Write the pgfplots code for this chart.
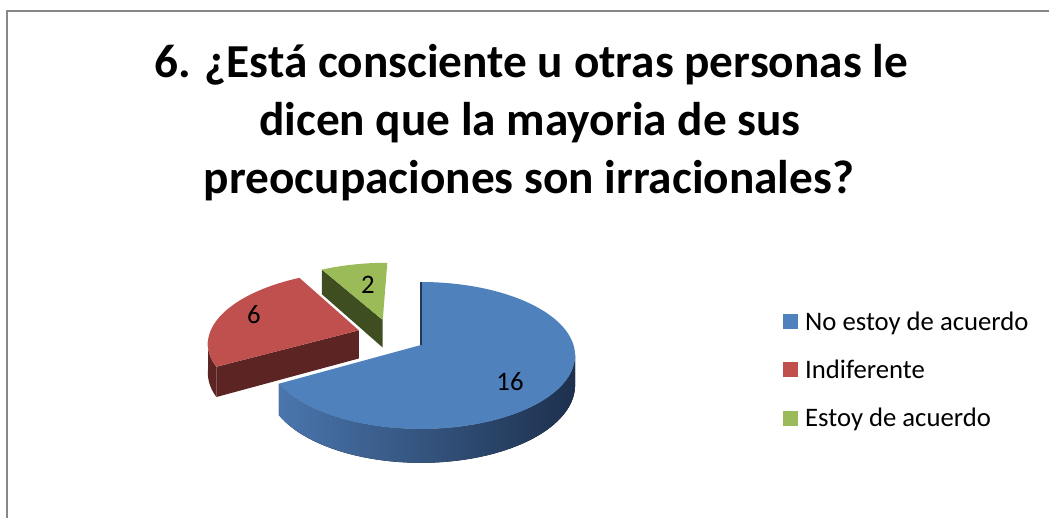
\documentclass[border=0pt]{standalone}
\usepackage{pgfplots}
\pgfplotsset{compat=1.18}
\usepackage{fontspec}
\setmainfont{Carlito}
\definecolor{blueTop}{HTML}{4F81BD}
\definecolor{blueWallL}{HTML}{4A76AD}
\definecolor{blueWallM}{HTML}{34557F}
\definecolor{blueWallR}{HTML}{1D304D}
\definecolor{blueEdge}{HTML}{22385A}
\definecolor{redTop}{HTML}{C0504D}
\definecolor{redDark}{HTML}{5C2524}
\definecolor{greenTop}{HTML}{9BBB59}
\definecolor{greenDark}{HTML}{3F4E21}
\definecolor{frameGray}{HTML}{878787}
% data
\def\vA{16}% No estoy de acuerdo
\def\vB{6}% Indiferente
\def\vC{2}% Estoy de acuerdo
\pgfmathsetmacro\tot{\vA+\vB+\vC}
\pgfmathsetmacro\aA{90}
\pgfmathsetmacro\aB{\aA-360*\vA/\tot}
\pgfmathsetmacro\aC{\aB-360*\vB/\tot}
\pgfmathsetmacro\aD{\aC-360*\vC/\tot}
% perspective projection of the pie plane
\pgfmathdeclarefunction{pjx}{2}{\pgfmathparse{421+152.5*(#1)/(1+0.1429*(#2))}}
\pgfmathdeclarefunction{pjy}{2}{\pgfmathparse{173+72*(#2)/(1+0.1429*(#2))}}
\pgfmathdeclarefunction{pjb}{2}{\pgfmathparse{173+(72*(#2)-29)/(1+0.1429*(#2))}}
\begin{document}
\begin{tikzpicture}
\useasboundingbox (0,0) rectangle (1049pt,518pt);
\begin{axis}[at={(0pt,0pt)}, anchor=origin, width=1049pt, height=518pt,
  scale only axis, xmin=0, xmax=1049, ymin=0, ymax=518, hide axis, clip=false]
% frame
\draw[frameGray, line width=1.5pt] (7,-10) -- (7,507) -- (1060,507);
% title
\node[anchor=base, font=\fontsize{47.3}{58}\selectfont\bfseries] at (531,440) {6. ¿Está consciente u otras personas le};
\node[anchor=base, font=\fontsize{47.3}{58}\selectfont\bfseries] at (530,382) {dicen que la mayoria de sus};
\node[anchor=base, font=\fontsize{47.3}{58}\selectfont\bfseries] at (529,324) {preocupaciones son irracionales?};
% ---- green slice (exploded) ----
\fill[greenDark] ({pjx(-0.264,0.365)},{pjy(-0.264,0.365)})
  -- ({pjx(-0.264+cos(\aC),0.365+sin(\aC))},{pjy(-0.264+cos(\aC),0.365+sin(\aC))})
  -- ({pjx(-0.264+cos(\aC),0.365+sin(\aC))},{pjb(-0.264+cos(\aC),0.365+sin(\aC))})
  -- ({pjx(-0.264,0.365)},{pjb(-0.264,0.365)}) -- cycle;
\fill[greenTop] ({pjx(-0.264,0.365)},{pjy(-0.264,0.365)})
  -- plot[domain=\aD:\aC, samples=20, variable=\t]
     ({pjx(-0.264+cos(\t),0.365+sin(\t))},{pjy(-0.264+cos(\t),0.365+sin(\t))}) -- cycle;
% ---- red slice (exploded) ----
\fill[redDark]
  plot[domain=-171.8:\aB, samples=15, variable=\t]
     ({pjx(-0.42+cos(\t),0.21+sin(\t))},{pjy(-0.42+cos(\t),0.21+sin(\t))})
  -- plot[domain=-171.8:\aB, samples=15, variable=\t]
     ({pjx(-0.42+cos(\aB-171.8-(\t)),0.21+sin(\aB-171.8-(\t)))},{pjb(-0.42+cos(\aB-171.8-(\t)),0.21+sin(\aB-171.8-(\t)))}) -- cycle;
\fill[redDark] ({pjx(-0.42,0.21)},{pjy(-0.42,0.21)})
  -- ({pjx(-0.42+cos(\aB),0.21+sin(\aB))},{pjy(-0.42+cos(\aB),0.21+sin(\aB))})
  -- ({pjx(-0.42+cos(\aB),0.21+sin(\aB))},{pjb(-0.42+cos(\aB),0.21+sin(\aB))})
  -- ({pjx(-0.42,0.21)},{pjb(-0.42,0.21)}) -- cycle;
\fill[redTop] ({pjx(-0.42,0.21)},{pjy(-0.42,0.21)})
  -- plot[domain=\aC:\aB, samples=40, variable=\t]
     ({pjx(-0.42+cos(\t),0.21+sin(\t))},{pjy(-0.42+cos(\t),0.21+sin(\t))}) -- cycle;
% ---- blue slice ----
\fill[left color=blueWallL, middle color=blueWallM, right color=blueWallR]
  plot[domain=\aB:-8.2, samples=60, variable=\t]
     ({pjx(cos(\t),sin(\t))},{pjy(cos(\t),sin(\t))})
  -- plot[domain=\aB:-8.2, samples=60, variable=\t]
     ({pjx(cos(\aB-8.2-(\t)),sin(\aB-8.2-(\t)))},{pjb(cos(\aB-8.2-(\t)),sin(\aB-8.2-(\t)))}) -- cycle;
\fill[blueTop] ({pjx(0,0)},{pjy(0,0)})
  -- plot[domain=\aB:\aA, samples=90, variable=\t]
     ({pjx(cos(\t),sin(\t))},{pjy(cos(\t),sin(\t))}) -- cycle;
\draw[blueEdge, line width=1.2pt] ({pjx(0,0)},{pjy(0,0)}) -- ({pjx(0,1)},{pjy(0,1)});
% ---- data labels ----
\node[font=\fontsize{26.7}{30}\selectfont] at (510,136) {\vA};
\node[font=\fontsize{26.7}{30}\selectfont] at (254,203) {\vB};
\node[font=\fontsize{26.7}{30}\selectfont] at (368,233) {\vC};
% ---- legend ----
\fill[blueTop] (783,189) rectangle (798,204);
\fill[redTop] (783,141) rectangle (798,156);
\fill[greenTop] (783,92) rectangle (798,107);
\node[anchor=base west, inner sep=0pt, font=\fontsize{26.7}{30}\selectfont] at (805,187) {No estoy de acuerdo};
\node[anchor=base west, inner sep=0pt, font=\fontsize{26.7}{30}\selectfont] at (805,139) {Indiferente};
\node[anchor=base west, inner sep=0pt, font=\fontsize{26.7}{30}\selectfont] at (805,91) {Estoy de acuerdo};
\end{axis}
\end{tikzpicture}
\end{document}
